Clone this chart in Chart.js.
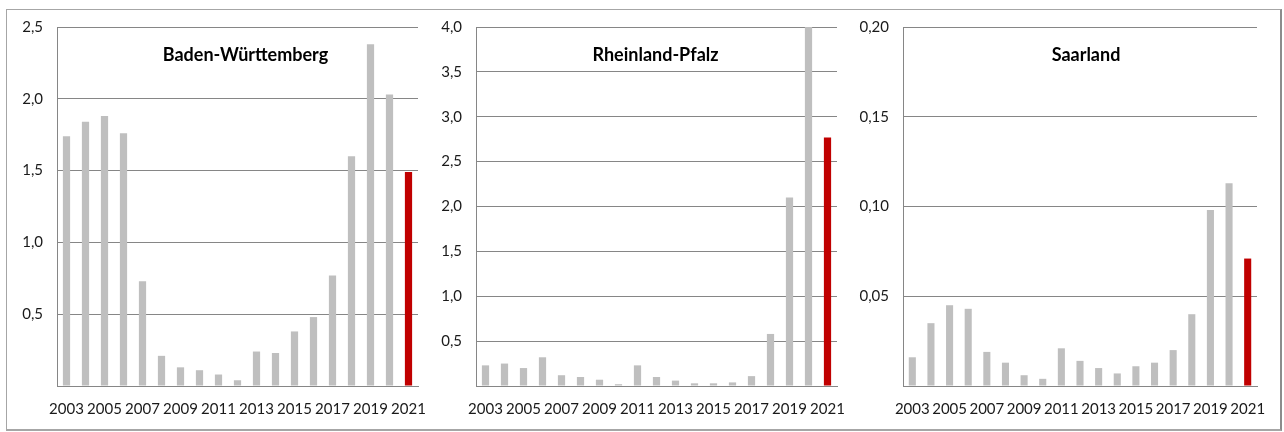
<!DOCTYPE html>
<html lang="de">
<head>
    <meta charset="UTF-8">
    <title>Baden-Württemberg, Rheinland-Pfalz, Saarland</title>
    <script src="https://cdn.jsdelivr.net/npm/chart.js"></script>
    <style>
        body {
            margin: 0;
            width: 1284px;
            height: 432px;
            background: #fff;
            position: relative;
            overflow: hidden;
        }
        #frame {
            position: absolute;
            left: 6px;
            top: 9px;
            width: 1273px;
            height: 419px;
            border: 1px solid #a6a6a6;
            border-right: 2px solid #8c8c8c;
            border-bottom: 2px solid #a6a6a6;
        }
        .panel {
            position: absolute;
            top: 0;
            height: 432px;
        }
    </style>
</head>
<body>
    <div id="frame"></div>
    <div class="panel" style="left:0; width:428px;"><canvas id="bw"></canvas></div>
    <div class="panel" style="left:430px; width:428px;"><canvas id="rp"></canvas></div>
    <div class="panel" style="left:850px; width:430px;"><canvas id="sl"></canvas></div>
    <script>
        // Years shown on the x axis (every second one is labelled)
        const years = ['2003', '2004', '2005', '2006', '2007', '2008', '2009', '2010', '2011', '2012',
                       '2013', '2014', '2015', '2016', '2017', '2018', '2019', '2020', '2021'];

        // Values per state
        const badenWuerttemberg = [1.74, 1.84, 1.88, 1.76, 0.73, 0.21, 0.13, 0.11, 0.08, 0.04,
                                   0.24, 0.23, 0.38, 0.48, 0.77, 1.60, 2.38, 2.03, 1.49];
        const rheinlandPfalz = [0.23, 0.25, 0.20, 0.32, 0.12, 0.10, 0.07, 0.02, 0.23, 0.10,
                                0.06, 0.03, 0.03, 0.04, 0.11, 0.58, 2.10, 4.00, 2.77];
        const saarland = [0.016, 0.035, 0.045, 0.043, 0.019, 0.013, 0.006, 0.004, 0.021, 0.014,
                          0.010, 0.007, 0.011, 0.013, 0.020, 0.040, 0.098, 0.113, 0.071];

        // Axis ranges
        const yMax = [2.5, 4.0, 0.20];
        const yStep = [0.5, 0.5, 0.05];
        const yDecimals = [1, 1, 2];
        const titles = ['Baden-Württemberg', 'Rheinland-Pfalz', 'Saarland'];

        const GRAY = '#bfbfbf';
        const RED = '#c00000';
        const GRID = '#868686';

        Chart.defaults.font.family = 'Lato, "Open Sans", sans-serif';
        Chart.defaults.font.size = 15;
        Chart.defaults.color = '#1a1a1a';

        // draws the state name inside the plot area
        const panelTitle = {
            id: 'panelTitle',
            afterDraw(chart, args, opts) {
                const { ctx, chartArea } = chart;
                ctx.save();
                ctx.font = 'bold 18px Lato, "Open Sans", sans-serif';
                ctx.fillStyle = '#000';
                ctx.textAlign = 'center';
                ctx.textBaseline = 'middle';
                ctx.fillText(opts.text, (chartArea.left + chartArea.right) / 2 + opts.dx, 55);
                ctx.restore();
            }
        };

        function makeChart(id, values, idx, axisWidth, padRight, titleDx) {
            const ctx = document.getElementById(id).getContext('2d');
            return new Chart(ctx, {
                type: 'bar',
                data: {
                    labels: years,
                    datasets: [{
                        data: values,
                        backgroundColor: values.map((v, i) => i === values.length - 1 ? RED : GRAY),
                        borderWidth: 0,
                        barPercentage: 0.38,
                        categoryPercentage: 1.0
                    }]
                },
                options: {
                    responsive: true,
                    maintainAspectRatio: false,
                    animation: false,
                    layout: { padding: { left: 0, right: padRight, top: 27, bottom: 6 } },
                    plugins: {
                        legend: { display: false },
                        tooltip: { enabled: false },
                        panelTitle: { text: titles[idx], dx: titleDx }
                    },
                    scales: {
                        x: {
                            grid: { display: false, drawTicks: false },
                            border: { display: true, color: GRID, width: 1 },
                            ticks: {
                                autoSkip: false,
                                maxRotation: 0,
                                padding: 14,
                                callback: function (val, i) { return i % 2 === 0 ? years[i] : ''; }
                            },
                            afterFit: function (scale) {
                                scale.height = 40;
                                scale.paddingLeft = 0;
                                scale.paddingRight = 0;
                            }
                        },
                        y: {
                            min: 0,
                            max: yMax[idx],
                            grid: { color: GRID, drawTicks: false },
                            border: { display: true, color: GRID, width: 1 },
                            ticks: {
                                stepSize: yStep[idx],
                                padding: 14,
                                callback: function (val) {
                                    if (val === 0) return '';
                                    return val.toFixed(yDecimals[idx]).replace('.', ',');
                                }
                            },
                            afterFit: function (scale) {
                                scale.width = axisWidth;
                                scale.paddingTop = 0;
                                scale.paddingBottom = 0;
                            }
                        }
                    }
                },
                plugins: [panelTitle]
            });
        }

        makeChart('bw', badenWuerttemberg, 0, 57, 10, 8);
        makeChart('rp', rheinlandPfalz, 1, 46, 21, -1);
        makeChart('sl', saarland, 2, 53, 23, 6);
    </script>
</body>
</html>
